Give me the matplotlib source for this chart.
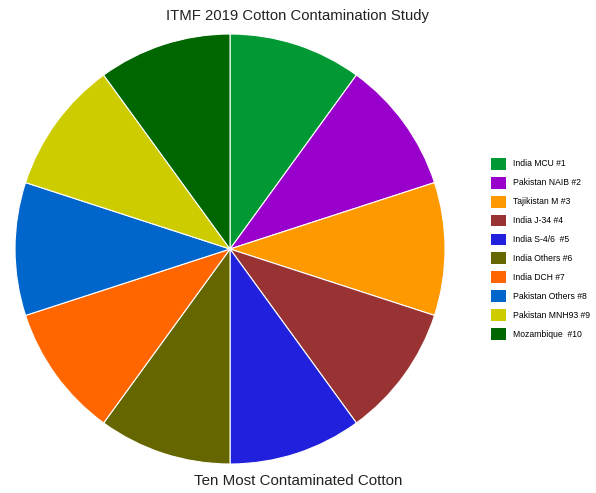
import matplotlib.pyplot as plt
from matplotlib.patches import Patch

plt.rcParams['font.family'] = ['Liberation Sans', 'DejaVu Sans']

labels = ['India MCU #1', 'Pakistan NAIB #2', 'Tajikistan M #3', 'India J-34 #4',
          'India S-4/6  #5', 'India Others #6', 'India DCH #7', 'Pakistan Others #8',
          'Pakistan MNH93 #9', 'Mozambique  #10']
values = [10, 10, 10, 10, 10, 10, 10, 10, 10, 10]
colors = ['#009933', '#9900cc', '#ff9900', '#993333', '#2020dd',
          '#666600', '#ff6600', '#0066cc', '#cccc00', '#006600']

fig = plt.figure(figsize=(5.96, 4.93), dpi=100)
ax = fig.add_axes([0.0252, 0.0588, 0.7215, 0.8722])
ax.pie(values, colors=colors, startangle=90, counterclock=False,
       wedgeprops=dict(edgecolor='white', linewidth=0.8))
ax.set_xlim(-1, 1)
ax.set_ylim(-1, 1)
ax.set_aspect('equal')

fig.text(0.5, 0.968, 'ITMF 2019 Cotton Contamination Study', ha='center', va='center',
         fontsize=10.7, color='#222222')
fig.text(0.5, 0.024, 'Ten Most Contaminated Cotton', ha='center', va='center',
         fontsize=10.9, color='#222222')

handles = [Patch(facecolor=c, edgecolor='none') for c in colors]
fig.legend(handles, labels, loc='center left', bbox_to_anchor=(0.824, 0.495),
           frameon=False, fontsize=6.2, handlelength=1.75, handleheight=1.75,
           handletextpad=0.75, labelspacing=0.82, borderpad=0, borderaxespad=0)

fig.savefig('out.png', dpi=100)
